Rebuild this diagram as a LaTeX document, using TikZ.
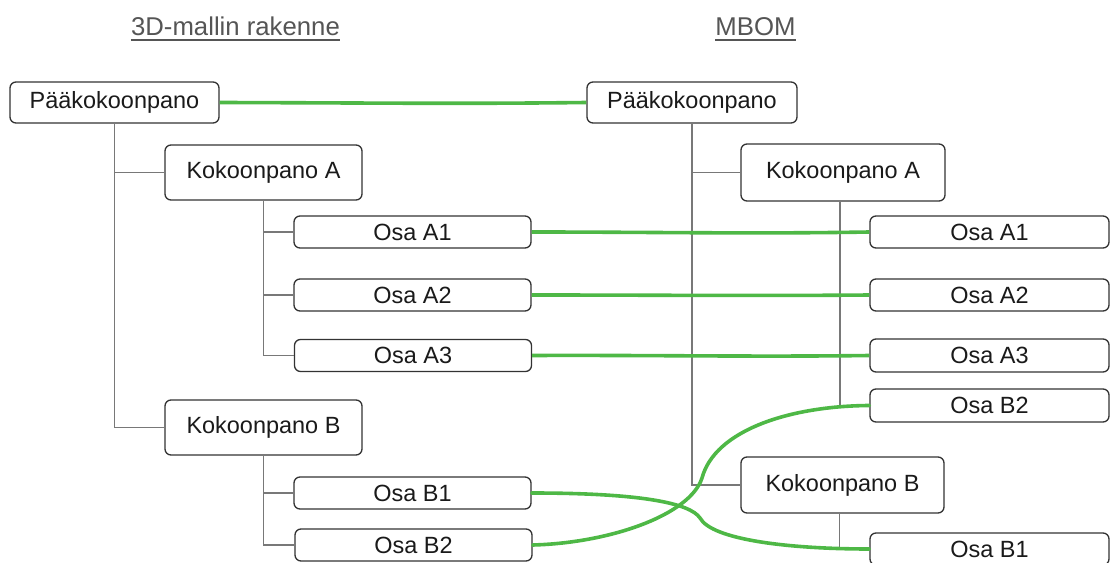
\documentclass[tikz,border=0pt]{standalone}
\usepackage{fontspec}
\setmainfont{Liberation Sans}
\definecolor{linkgreen}{RGB}{78,184,70}
\definecolor{boxline}{RGB}{51,51,51}
\definecolor{treeline}{RGB}{120,120,120}
\definecolor{headgray}{RGB}{85,85,85}
\definecolor{boxtext}{RGB}{26,26,26}
\tikzset{
  item/.style={draw=boxline, line width=1pt, rounded corners=4.5pt, fill=white,
    text=boxtext, inner sep=0pt, font=\fontsize{17.6}{21}\selectfont},
  branch/.style={draw=treeline, line width=0.9pt},
  link/.style={draw=linkgreen, line width=2.7pt},
  heading/.style={text=headgray, inner sep=0pt, anchor=base, font=\fontsize{19.3}{23}\selectfont},
}
\begin{document}
\begin{tikzpicture}[x=0.75pt, y=-0.75pt]
\useasboundingbox (0,0) rectangle (1111,563);
\clip (0,0) rectangle (1111,563);

% column headings
\node[heading] (h1) at (235.5,36) {3D-mallin rakenne};
\node[heading] (h2) at (755.5,36) {MBOM};
\draw[headgray, line width=1.1pt] ([yshift=-3pt]h1.base west) -- ([yshift=-3pt]h1.base east);
\draw[headgray, line width=1.1pt] ([yshift=-3pt]h2.base west) -- ([yshift=-3pt]h2.base east);

% 3D model structure
\node[item, minimum width=209*0.75pt, minimum height=41*0.75pt] (LP) at (114.5,102.5) {Pääkokoonpano};
\node[item, minimum width=197*0.75pt, minimum height=55*0.75pt] (LKA) at (263.5,172.5) {Kokoonpano A};
\node[item, minimum width=237*0.75pt, minimum height=32*0.75pt] (LA1) at (412.5,232) {Osa A1};
\node[item, minimum width=237*0.75pt, minimum height=32*0.75pt] (LA2) at (412.5,295) {Osa A2};
\node[item, minimum width=237*0.75pt, minimum height=32*0.75pt] (LA3) at (413,355.5) {Osa A3};
\node[item, minimum width=197*0.75pt, minimum height=55*0.75pt] (LKB) at (263.5,427.5) {Kokoonpano B};
\node[item, minimum width=237*0.75pt, minimum height=32*0.75pt] (LB1) at (412.5,493) {Osa B1};
\node[item, minimum width=237*0.75pt, minimum height=32*0.75pt] (LB2) at (413.5,545) {Osa B2};

% MBOM
\node[item, minimum width=210*0.75pt, minimum height=41*0.75pt] (RP) at (692,102.5) {Pääkokoonpano};
\node[item, minimum width=204*0.75pt, minimum height=57*0.75pt] (RKA) at (843,172.5) {Kokoonpano A};
\node[item, minimum width=239*0.75pt, minimum height=32*0.75pt] (RA1) at (989.5,232) {Osa A1};
\node[item, minimum width=239*0.75pt, minimum height=32*0.75pt] (RA2) at (989.5,295) {Osa A2};
\node[item, minimum width=239*0.75pt, minimum height=33*0.75pt] (RA3) at (989.5,355.5) {Osa A3};
\node[item, minimum width=239*0.75pt, minimum height=33*0.75pt] (RB2) at (989.5,405.5) {Osa B2};
\node[item, minimum width=203*0.75pt, minimum height=56*0.75pt] (RKB) at (842.5,485) {Kokoonpano B};
\node[item, minimum width=239*0.75pt, minimum height=32*0.75pt] (RB1) at (989.5,549) {Osa B1};

% hierarchy lines, left
\draw[branch] (LP.south) -- (LP.south |- LKB.west) -- (LKB.west);
\draw[branch] (LP.south |- LKA.west) -- (LKA.west);
\draw[branch] (LKA.south) -- (LKA.south |- LA3.west) -- (LA3.west);
\draw[branch] (LKA.south |- LA1.west) -- (LA1.west);
\draw[branch] (LKA.south |- LA2.west) -- (LA2.west);
\draw[branch] (LKB.south) -- (LKB.south |- LB2.west) -- (LB2.west);
\draw[branch] (LKB.south |- LB1.west) -- (LB1.west);

% hierarchy lines, right
\draw[branch] (RP.south) -- (RP.south |- RKB.west) -- (RKB.west);
\draw[branch] (RP.south |- RKA.west) -- (RKA.west);
\draw[branch] ([xshift=-2.2pt]RKA.south) -- ([xshift=-2.2pt]RKA.south |- RB2.west) -- (RB2.west);
\draw[branch] ([xshift=-2.2pt]RKA.south |- RA1.west) -- (RA1.west);
\draw[branch] ([xshift=-2.2pt]RKA.south |- RA2.west) -- (RA2.west);
\draw[branch] ([xshift=-2.2pt]RKA.south |- RA3.west) -- (RA3.west);
\draw[branch] ([xshift=-2pt]RKB.south) -- ([xshift=-2pt]RKB.south |- RB1.west) -- (RB1.west);

% correspondence links
\draw[link] (LP.east) .. controls (400,103) and (450,104) .. (RP.west);
\draw[link] (LA1.east) .. controls (650,232) and (750,234) .. (RA1.west);
\draw[link] (LA2.east) .. controls (650,295) and (750,296) .. (RA2.west);
\draw[link] (LA3.east) .. controls (650,355) and (750,357) .. (RA3.west);
\draw[link, line cap=round] (LB1.east) .. controls (640,493) and (690,503) .. (700,518)
  .. controls (712,540) and (790,549) .. (RB1.west);
\draw[link, line cap=round] (LB2.east) .. controls (610,543) and (690,515) .. (702,478)
  .. controls (715,430) and (790,406) .. (RB2.west);
\end{tikzpicture}
\end{document}
